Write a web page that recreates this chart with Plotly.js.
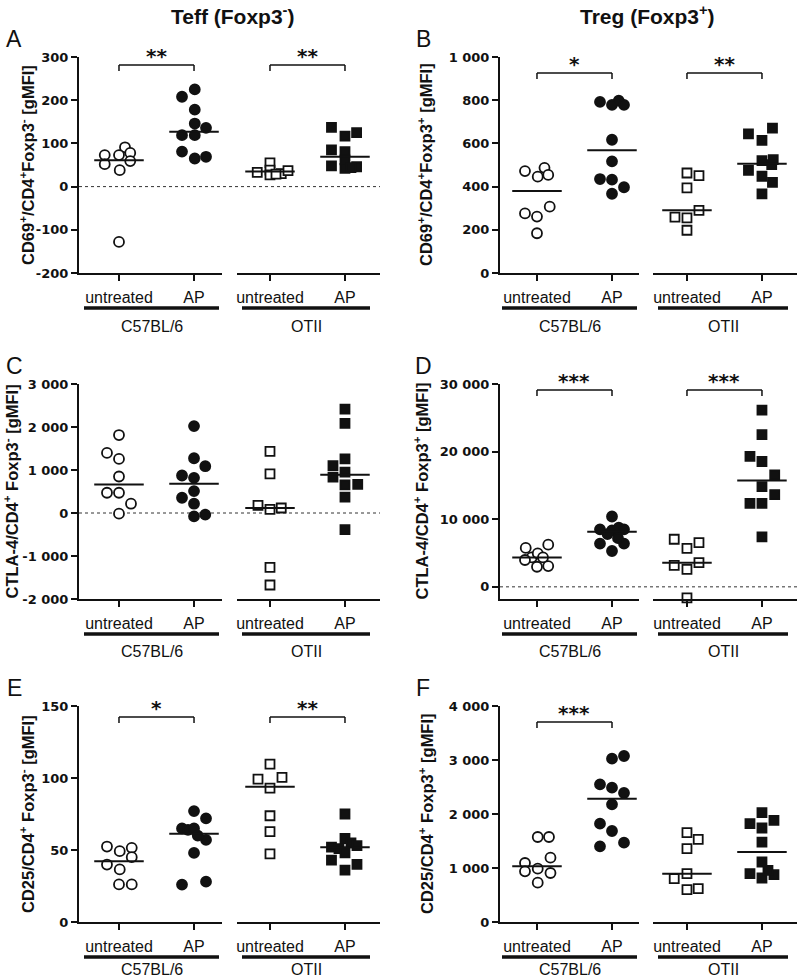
<!DOCTYPE html>
<html><head><meta charset="utf-8">
<script src="https://cdn.plot.ly/plotly-3.0.1.min.js"></script>
<style>body{margin:0;background:#fff}#chart{width:800px;height:979px}</style>
</head><body><div id="chart"></div>
<script>
// ---------------- DATA ----------------
const categories = ['untreated', 'AP'];
const strains = ['C57BL/6', 'OTII'];
const columnTitles = ['Teff (Foxp3<sup>-</sup>)', 'Treg (Foxp3<sup>+</sup>)'];

// Panel A  CD69+/CD4+Foxp3-
const A_C57_untreated = [91, 73, 73, 78, 52, 59, 38, -128];
const A_C57_untreated_jitter = [0.08, -0.19, 0, 0.15, -0.19, 0.15, 0.01, 0];
const A_C57_AP = [208, 225, 178, 146, 136, 119, 119, 81, 65, 69];
const A_C57_AP_jitter = [-0.16, 0.01, 0.01, 0.01, 0.16, -0.16, 0.01, -0.16, 0.01, 0.16];
const A_OTII_untreated = [33, 55, 38, 27, 30, 37, 29];
const A_OTII_untreated_jitter = [-0.17, 0, 0, 0, 0.15, 0.24, 0.08];
const A_OTII_AP = [137, 117, 125, 85, 81, 62, 48, 42, 46, 44];
const A_OTII_AP_jitter = [-0.18, 0, 0.155, -0.18, 0, 0, -0.18, 0, 0.155, 0.08];
const A_medians = [61, 127, 35, 69];
const A_yTicks = [-200, -100, 0, 100, 200, 300];
const A_yTickText = ['-200', '-100', '0', '100', '200', '300'];
const A_stars = ['**', '**'];

// Panel B  CD69+/CD4+Foxp3+
const B_C57_untreated = [472, 446, 487, 454, 276, 261, 307, 184];
const B_C57_untreated_jitter = [-0.16, 0.01, 0.1, 0.15, -0.16, 0, 0.17, 0];
const B_C57_AP = [792, 778, 798, 778, 617, 517, 435, 432, 397, 367];
const B_C57_AP_jitter = [-0.16, 0, 0.09, 0.16, 0, 0, -0.16, 0, 0.16, 0];
const B_OTII_untreated = [463, 451, 394, 290, 259, 255, 198];
const B_OTII_untreated_jitter = [0, 0.16, 0, 0.16, -0.16, 0, 0];
const B_OTII_AP = [671, 644, 614, 520, 525, 502, 475, 448, 420, 366];
const B_OTII_AP_jitter = [0.14, -0.18, 0, 0, 0.15, 0.13, -0.18, 0, 0.14, 0];
const B_medians = [380, 568, 290, 506];
const B_yTicks = [0, 200, 400, 600, 800, 1000];
const B_yTickText = ['0', '200', '400', '600', '800', '1 000'];
const B_stars = ['*', '**'];

// Panel C  CTLA-4/CD4+ Foxp3-
const C_C57_untreated = [1813, 1397, 1258, 849, 471, 471, 216, -15];
const C_C57_untreated_jitter = [0, -0.16, 0, 0, -0.16, 0, 0.16, 0];
const C_C57_AP = [2022, 1273, 1088, 872, 818, 509, 355, 216, -77, -39];
const C_C57_AP_jitter = [0, 0, 0.15, -0.16, 0, 0, -0.16, 0, 0, 0.15];
const C_OTII_untreated = [1435, 910, 177, 85, 116, -1265, -1674];
const C_OTII_untreated_jitter = [0, 0, -0.16, 0, 0.15, 0, 0];
const C_OTII_AP = [2415, 2083, 1258, 1103, 949, 833, 656, 664, 370, -386];
const C_OTII_AP_jitter = [0, 0, 0, -0.16, 0, -0.16, 0, 0.17, 0, 0];
const C_medians = [664, 680, 116, 887];
const C_yTicks = [-2000, -1000, 0, 1000, 2000, 3000];
const C_yTickText = ['-2 000', '-1 000', '0', '1 000', '2 000', '3 000'];
const C_stars = ['', ''];

// Panel D  CTLA-4/CD4+ Foxp3+
const D_C57_untreated = [5750, 6240, 4350, 4950, 4350, 3970, 2970, 3070];
const D_C57_untreated_jitter = [-0.15, 0.15, -0.07, 0.01, 0.08, -0.16, 0, 0.15];
const D_C57_AP = [10400, 8500, 8350, 8750, 8500, 6400, 6400, 5300, 7200, 7800];
const D_C57_AP_jitter = [0, -0.16, 0, 0.09, 0.16, -0.16, 0.16, 0, 0.08, -0.06];
const D_OTII_untreated = [7040, 5700, 6540, 3170, 2580, 3570, -1640];
const D_OTII_untreated_jitter = [-0.17, 0, 0.16, -0.17, 0, 0.16, 0];
const D_OTII_AP = [26130, 22510, 19290, 18540, 16560, 14820, 13630, 12350, 12350, 7390];
const D_OTII_AP_jitter = [0, 0, -0.16, 0, 0.17, 0, 0.17, -0.16, 0, 0];
const D_medians = [4350, 8131, 3570, 15716];
const D_yTicks = [0, 10000, 20000, 30000];
const D_yTickText = ['0', '10 000', '20 000', '30 000'];
const D_stars = ['***', '***'];

// Panel E  CD25/CD4+ Foxp3-
const E_C57_untreated = [52.4, 49.2, 51.5, 45, 39.9, 36.5, 26.1, 26.1];
const E_C57_untreated_jitter = [-0.16, 0.01, 0.17, 0.17, -0.16, 0.01, 0, 0.17];
const E_C57_AP = [77, 72, 65, 64, 65, 57, 48, 26, 28, 60];
const E_C57_AP_jitter = [0, 0.16, -0.16, -0.08, 0, 0.16, 0, -0.16, 0.16, 0.05];
const E_OTII_untreated = [109.6, 99.2, 100.4, 93, 73.8, 62.8, 47.3];
const E_OTII_untreated_jitter = [0, -0.16, 0.16, 0, 0, 0, 0];
const E_OTII_AP = [75, 58, 55, 53, 52, 51, 48, 43, 40, 36];
const E_OTII_AP_jitter = [0, 0, 0.08, 0.16, -0.18, -0.08, 0, -0.18, 0.16, 0];
const E_medians = [42.2, 61.2, 93.9, 51.9];
const E_yTicks = [0, 50, 100, 150];
const E_yTickText = ['0', '50', '100', '150'];
const E_stars = ['*', '**'];

// Panel F  CD25/CD4+ Foxp3+
const F_C57_untreated = [1574, 1574, 1191, 1093, 988, 938, 907, 728];
const F_C57_untreated_jitter = [0.01, 0.16, 0.18, -0.16, 0.01, -0.16, 0.18, 0.01];
const F_C57_AP = [3025, 3074, 2549, 2488, 2389, 2179, 1821, 1685, 1401, 1469];
const F_C57_AP_jitter = [0, 0.16, -0.16, 0, 0.16, 0, -0.16, 0, -0.16, 0.16];
const F_OTII_untreated = [1654, 1531, 1358, 895, 802, 599, 617];
const F_OTII_untreated_jitter = [0, 0.15, 0, 0, -0.17, 0, 0.15];
const F_OTII_AP = [2025, 1821, 1883, 1741, 1481, 1111, 895, 815, 877, 957];
const F_OTII_AP_jitter = [0, -0.16, 0.16, 0, 0, 0, -0.16, 0, 0.16, 0.08];
const F_medians = [1031, 2284, 895, 1296];
const F_yTicks = [0, 1000, 2000, 3000, 4000];
const F_yTickText = ['0', '1 000', '2 000', '3 000', '4 000'];
const F_stars = ['***', ''];

// ---------------- PANEL CONFIG ----------------
const panels = [
  {letter: 'A', col: 0, row: 0, range: [-200, 300], ticks: A_yTicks, tickText: A_yTickText, zero: true,
   yTitle: 'CD69<sup>+</sup>/CD4<sup>+</sup>Foxp3<sup>-</sup> [gMFI]', yTitlePx: 27,
   groups: [A_C57_untreated, A_C57_AP, A_OTII_untreated, A_OTII_AP],
   jitter: [A_C57_untreated_jitter, A_C57_AP_jitter, A_OTII_untreated_jitter, A_OTII_AP_jitter],
   medians: A_medians, stars: A_stars, bracketOff: 8},
  {letter: 'B', col: 1, row: 0, range: [0, 1000], ticks: B_yTicks, tickText: B_yTickText, zero: false,
   yTitle: 'CD69<sup>+</sup>/CD4<sup>+</sup>Foxp3<sup>+</sup> [gMFI]', yTitlePx: 425,
   groups: [B_C57_untreated, B_C57_AP, B_OTII_untreated, B_OTII_AP],
   jitter: [B_C57_untreated_jitter, B_C57_AP_jitter, B_OTII_untreated_jitter, B_OTII_AP_jitter],
   medians: B_medians, stars: B_stars, bracketOff: 16},
  {letter: 'C', col: 0, row: 1, range: [-2000, 3000], ticks: C_yTicks, tickText: C_yTickText, zero: true,
   yTitle: 'CTLA-4/CD4<sup>+</sup> Foxp3<sup>-</sup> [gMFI]', yTitlePx: 12,
   groups: [C_C57_untreated, C_C57_AP, C_OTII_untreated, C_OTII_AP],
   jitter: [C_C57_untreated_jitter, C_C57_AP_jitter, C_OTII_untreated_jitter, C_OTII_AP_jitter],
   medians: C_medians, stars: C_stars, bracketOff: 8},
  {letter: 'D', col: 1, row: 1, range: [-1800, 30000], ticks: D_yTicks, tickText: D_yTickText, zero: true,
   yTitle: 'CTLA-4/CD4<sup>+</sup> Foxp3<sup>+</sup> [gMFI]', yTitlePx: 422,
   groups: [D_C57_untreated, D_C57_AP, D_OTII_untreated, D_OTII_AP],
   jitter: [D_C57_untreated_jitter, D_C57_AP_jitter, D_OTII_untreated_jitter, D_OTII_AP_jitter],
   medians: D_medians, stars: D_stars, bracketOff: 6},
  {letter: 'E', col: 0, row: 2, range: [0, 150], ticks: E_yTicks, tickText: E_yTickText, zero: false,
   yTitle: 'CD25/CD4<sup>+</sup> Foxp3<sup>-</sup> [gMFI]', yTitlePx: 27,
   groups: [E_C57_untreated, E_C57_AP, E_OTII_untreated, E_OTII_AP],
   jitter: [E_C57_untreated_jitter, E_C57_AP_jitter, E_OTII_untreated_jitter, E_OTII_AP_jitter],
   medians: E_medians, stars: E_stars, bracketOff: 11},
  {letter: 'F', col: 1, row: 2, range: [0, 4000], ticks: F_yTicks, tickText: F_yTickText, zero: false,
   yTitle: 'CD25/CD4<sup>+</sup> Foxp3<sup>+</sup> [gMFI]', yTitlePx: 426,
   groups: [F_C57_untreated, F_C57_AP, F_OTII_untreated, F_OTII_AP],
   jitter: [F_C57_untreated_jitter, F_C57_AP_jitter, F_OTII_untreated_jitter, F_OTII_AP_jitter],
   medians: F_medians, stars: F_stars, bracketOff: 16}
];

// ---------------- LAYOUT GEOMETRY ----------------
const W = 800, H = 979;
const fx = px => px / W;
const fy = py => 1 - py / H;
const FONT = 'Liberation Sans, Arial, Helvetica, sans-serif';
const WIDE = 'DejaVu Sans, Liberation Sans, Arial, sans-serif';
const INK = '#111111';

const COLS = [
  {yAxisPx: 79, seg: [[79, 222], [237, 380]], ranges: [[-0.533, 1.373], [-0.44, 1.467]],
   ul: [[84, 219], [242, 370]], letterPx: 14, titlePx: 233},
  {yAxisPx: 500, seg: [[500, 639], [653, 797]], ranges: [[-0.493, 1.36], [-0.453, 1.467]],
   ul: [[502, 637], [658, 788]], letterPx: 423, titlePx: 647}
];
const ROWS = [
  {top: 57, bot: 273, labelPx: 326},
  {top: 384, bot: 599, labelPx: 651},
  {top: 706, bot: 922, labelPx: 969}
];

const MARKERS = [
  {symbol: 'circle', color: '#ffffff', size: 10},
  {symbol: 'circle', color: INK, size: 10},
  {symbol: 'square', color: '#ffffff', size: 9},
  {symbol: 'square', color: INK, size: 9}
];
const MED_HALF = 0.33;

const data = [];
const layout = {
  width: W, height: H, margin: {l: 0, r: 0, t: 0, b: 0},
  paper_bgcolor: '#ffffff', plot_bgcolor: 'rgba(0,0,0,0)',
  showlegend: false, font: {family: FONT, color: INK},
  shapes: [], annotations: []
};

const axName = (base, n) => base + (n === 1 ? '' : n);

columnTitles.forEach((t, ci) => {
  layout.annotations.push({text: '<b>' + t + '</b>', xref: 'paper', yref: 'paper',
    x: fx(COLS[ci].titlePx), y: fy(15), xanchor: 'center', yanchor: 'middle', showarrow: false,
    font: {size: 21, family: FONT, color: INK}});
});

panels.forEach((p, i) => {
  const c = COLS[p.col], r = ROWS[p.row];
  const yN = i + 1, xa = 2 * i + 1, xb = 2 * i + 2;
  const yRef = axName('y', yN), xRefs = [axName('x', xa), axName('x', xb)];

  layout[axName('yaxis', yN)] = {
    domain: [fy(r.bot), fy(r.top)], range: p.range, anchor: xRefs[0],
    showline: true, linewidth: 2, linecolor: INK, mirror: false,
    ticks: 'outside', ticklen: 6, tickwidth: 2, tickcolor: INK,
    tickvals: p.ticks, ticktext: p.tickText,
    tickfont: {family: WIDE, size: 13, color: INK, weight: 'bold'},
    showgrid: false, zeroline: false, fixedrange: true
  };
  [0, 1].forEach(s => {
    layout[axName('xaxis', s === 0 ? xa : xb)] = {
      domain: [fx(c.seg[s][0]), fx(c.seg[s][1])], range: c.ranges[s], anchor: yRef,
      showline: true, linewidth: 2, linecolor: INK,
      ticks: 'outside', ticklen: 6, tickwidth: 2, tickcolor: INK,
      tickvals: [0, 1], ticktext: categories, ticklabelstandoff: 3,
      tickfont: {family: FONT, size: 16, color: INK},
      showgrid: false, zeroline: false, fixedrange: true
    };
  });

  // points and median lines
  p.groups.forEach((vals, g) => {
    const s = g < 2 ? 0 : 1;
    const center = g % 2;
    const m = MARKERS[g];
    data.push({
      type: 'scatter', mode: 'markers', xaxis: xRefs[s], yaxis: yRef, cliponaxis: false,
      x: p.jitter[g].map(j => center + j), y: vals,
      marker: {symbol: m.symbol, size: m.size, color: m.color, line: {color: INK, width: 1.8}},
      hoverinfo: 'y'
    });
    data.push({
      type: 'scatter', mode: 'lines', xaxis: xRefs[s], yaxis: yRef, cliponaxis: false,
      x: [center - MED_HALF, center + MED_HALF], y: [p.medians[g], p.medians[g]],
      line: {color: INK, width: 2}, hoverinfo: 'skip'
    });
  });

  // zero dotted line
  if (p.zero) {
    layout.shapes.push({type: 'line', xref: 'paper', yref: yRef,
      x0: fx(c.yAxisPx), x1: fx(c.seg[1][1]), y0: 0, y1: 0,
      line: {color: '#333333', width: 1, dash: 'dot'}, layer: 'below'});
  }

  // significance brackets
  p.stars.forEach((st, s) => {
    if (!st) return;
    const yb = r.top + p.bracketOff;
    const xr = xRefs[s];
    const ln = {color: INK, width: 1.5};
    layout.shapes.push({type: 'line', xref: xr, yref: 'paper', x0: 0, x1: 1, y0: fy(yb), y1: fy(yb), line: ln});
    layout.shapes.push({type: 'line', xref: xr, yref: 'paper', x0: 0, x1: 0, y0: fy(yb), y1: fy(yb + 6), line: ln});
    layout.shapes.push({type: 'line', xref: xr, yref: 'paper', x0: 1, x1: 1, y0: fy(yb), y1: fy(yb + 6), line: ln});
    layout.annotations.push({text: st, xref: xr, yref: 'paper', x: 0.5, y: fy(yb + 5),
      xanchor: 'center', yanchor: 'bottom', showarrow: false,
      font: {size: 20, family: WIDE, color: INK, weight: 'bold'}});
  });

  // strain underline + label
  [0, 1].forEach(s => {
    const u = c.ul[s];
    layout.shapes.push({type: 'line', xref: 'paper', yref: 'paper',
      x0: fx(u[0]), x1: fx(u[1]), y0: fy(r.bot + 35), y1: fy(r.bot + 35),
      line: {color: INK, width: 3.5}});
    layout.annotations.push({text: strains[s], xref: 'paper', yref: 'paper',
      x: fx((u[0] + u[1]) / 2), y: fy(r.labelPx), xanchor: 'center', yanchor: 'middle',
      showarrow: false, font: {size: 16, family: FONT, color: INK}});
  });

  // y title
  layout.annotations.push({text: '<b>' + p.yTitle + '</b>', xref: 'paper', yref: 'paper',
    x: fx(p.yTitlePx), y: fy((r.top + r.bot) / 2), textangle: -90,
    xanchor: 'center', yanchor: 'middle', showarrow: false,
    font: {size: 16.5, family: FONT, color: INK}});

  // panel letter
  layout.annotations.push({text: p.letter, xref: 'paper', yref: 'paper',
    x: fx(c.letterPx), y: fy(r.top - 18), xanchor: 'center', yanchor: 'middle',
    showarrow: false, font: {size: 23, family: FONT, color: INK}});
});

Plotly.newPlot('chart', data, layout, {displayModeBar: false, staticPlot: true});
</script>
</body></html>
